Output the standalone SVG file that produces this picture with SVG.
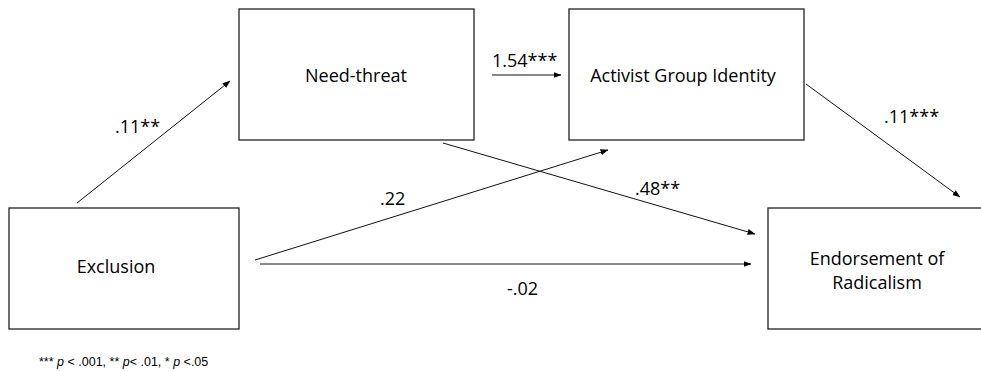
<svg xmlns="http://www.w3.org/2000/svg" width="981" height="371" viewBox="0 0 981 371">
<defs>
<marker id="ah" markerWidth="8" markerHeight="6" refX="7.5" refY="3" orient="auto" markerUnits="userSpaceOnUse">
<path d="M0,0 L8,3 L0,6 Z" fill="#000"/>
</marker>
<style>
.box{fill:#fff;stroke:#222;stroke-width:1.3}
.lbl{font-family:"Open Sans","Liberation Sans",sans-serif;font-size:18px;fill:#000}
.edge{stroke:#111;stroke-width:1;fill:none;marker-end:url(#ah)}
.note{font-family:"Liberation Sans",Arial,sans-serif;font-size:12.5px;fill:#000}
</style>
</defs>
<rect width="981" height="371" fill="#fff"/>
<g id="need-threat">
<rect class="box" x="239" y="9" width="235" height="131"/>
<text class="lbl" x="356" y="82" text-anchor="middle">Need-threat</text>
</g>
<g id="activist">
<rect class="box" x="569" y="9" width="235" height="131"/>
<text class="lbl" x="683" y="82" text-anchor="middle">Activist Group Identity</text>
</g>
<g id="exclusion">
<rect class="box" x="9" y="208" width="230" height="121"/>
<text class="lbl" x="116" y="273" text-anchor="middle">Exclusion</text>
</g>
<g id="endorsement">
<rect class="box" x="768" y="208" width="220" height="121"/>
<text class="lbl" x="877" y="265" text-anchor="middle">Endorsement of</text>
<text class="lbl" x="877" y="289" text-anchor="middle">Radicalism</text>
</g>
<g id="connectors">
<line class="edge" x1="77" y1="203" x2="230" y2="81"/>
<line class="edge" x1="492" y1="75" x2="561" y2="75"/>
<line class="edge" x1="806" y1="84" x2="960" y2="197"/>
<line class="edge" x1="443" y1="143" x2="755" y2="234"/>
<line class="edge" x1="255" y1="260" x2="608" y2="150"/>
<line class="edge" x1="260" y1="264" x2="751" y2="264"/>
</g>
<g id="labels">
<text class="lbl" x="115" y="133">.11**</text>
<text class="lbl" x="492" y="67">1.54***</text>
<text class="lbl" x="884" y="123">.11***</text>
<text class="lbl" x="380" y="205">.22</text>
<text class="lbl" x="635" y="195">.48**</text>
<text class="lbl" x="507" y="295">-.02</text>
</g>
<text class="note" x="39" y="366">*** <tspan font-style="italic">p</tspan> &lt; .001, ** <tspan font-style="italic">p</tspan>&lt; .01, * <tspan font-style="italic">p</tspan> &lt;.05</text>
</svg>
